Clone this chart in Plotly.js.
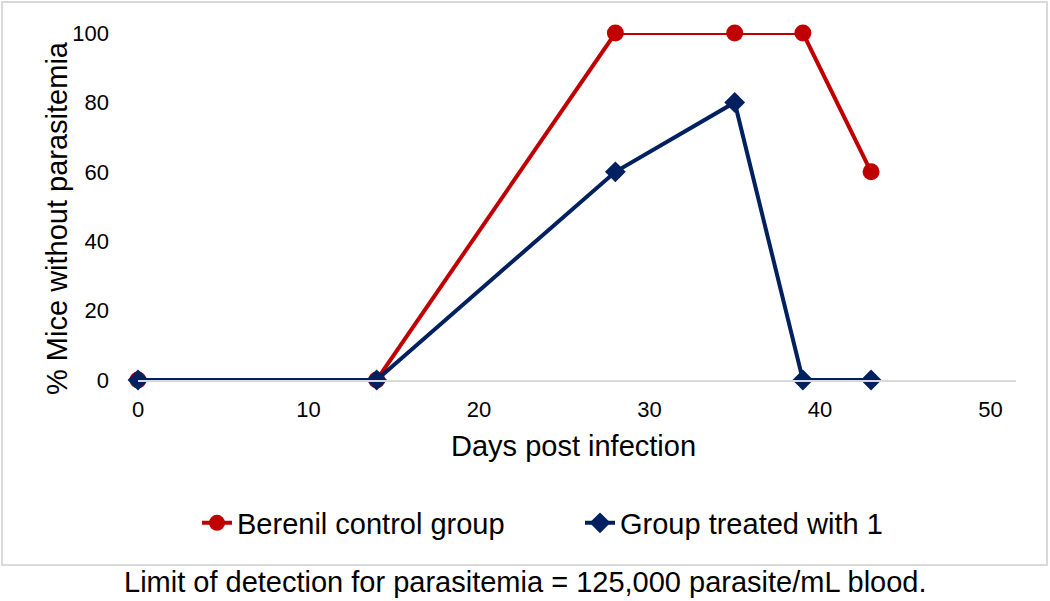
<!DOCTYPE html>
<html>
<head>
<meta charset="utf-8">
<script src="https://cdn.plot.ly/plotly-3.0.1.min.js"></script>
<style>html,body{margin:0;padding:0;background:#fff;}#chart{width:1050px;height:601px;}</style>
</head>
<body>
<div id="chart"></div>
<script>
var days = [0, 14, 28, 35, 39, 43];
var berenilControl = [0, 0, 100, 100, 100, 60];
var treatedWith1 = [0, 0, 60, 80, 0, 0];
var seriesNames = ["Berenil control group", "Group treated with 1"];
var xTicks = [0, 10, 20, 30, 40, 50];
var yTicks = [0, 20, 40, 60, 80, 100];
var xTitle = "Days post infection";
var yTitle = "% Mice without parasitemia";
var caption = "Limit of detection for parasitemia = 125,000 parasite/mL blood.";

var FONT = "Liberation Sans, Arial, sans-serif";

var traces = [
  {
    x: days, y: berenilControl, name: seriesNames[0], type: "scatter", mode: "lines+markers",
    line: {color: "#C00000", width: 4},
    marker: {symbol: "circle", size: 17, color: "#C00000"},
    cliponaxis: false
  },
  {
    x: days, y: treatedWith1, name: seriesNames[1], type: "scatter", mode: "lines+markers",
    line: {color: "#002060", width: 4},
    marker: {symbol: "diamond", size: 16, color: "#002060"},
    cliponaxis: false
  }
];

var L = 138, R = 34, T = 33, B = 221;
var W = 1050 - L - R, H = 601 - T - B;
function px(p) { return (p - L) / W; }
function py(p) { return (601 - B - p) / H; }

var layout = {
  width: 1050, height: 601,
  margin: {l: L, r: R, t: T, b: B},
  paper_bgcolor: "#ffffff", plot_bgcolor: "#ffffff",
  font: {family: FONT, color: "#000000"},
  showlegend: true,
  legend: {
    orientation: "h", x: px(197), xanchor: "left", y: py(523), yanchor: "middle",
    font: {size: 29, family: FONT, color: "#000"}, itemwidth: 30,
    entrywidth: 338, entrywidthmode: "pixels", bgcolor: "rgba(0,0,0,0)"
  },
  xaxis: {
    range: [0, 51.5], tickvals: xTicks, ticktext: xTicks.map(String),
    showgrid: false, zeroline: false, showline: true, linecolor: "#D9D9D9", linewidth: 2,
    ticks: "", tickfont: {size: 22, family: FONT, color: "#000"}, ticklabelstandoff: 9,
    fixedrange: true
  },
  yaxis: {
    range: [0, 100], tickvals: yTicks, ticktext: yTicks.map(String),
    showgrid: false, zeroline: false, showline: false,
    ticks: "", tickfont: {size: 22, family: FONT, color: "#000"}, ticklabelstandoff: 28,
    fixedrange: true
  },
  shapes: [
    {type: "rect", xref: "paper", yref: "paper", x0: px(2), x1: px(1047), y0: py(565), y1: py(2),
     line: {color: "#D9D9D9", width: 2}, fillcolor: "rgba(0,0,0,0)", layer: "below"}
  ],
  annotations: [
    {text: xTitle, xref: "paper", yref: "paper", x: px(573), y: py(446), xanchor: "center", yanchor: "middle",
     showarrow: false, font: {size: 29, family: FONT, color: "#000"}},
    {text: yTitle, xref: "paper", yref: "paper", x: px(57), y: py(218), xanchor: "center", yanchor: "middle",
     textangle: -90, showarrow: false, font: {size: 29, family: FONT, color: "#000"}},
    {text: caption, xref: "paper", yref: "paper", x: px(525), y: py(582), xanchor: "center", yanchor: "middle",
     showarrow: false, font: {size: 29, family: FONT, color: "#000"}}
  ]
};

Plotly.newPlot("chart", traces, layout, {displayModeBar: false, staticPlot: true});
</script>
</body>
</html>
